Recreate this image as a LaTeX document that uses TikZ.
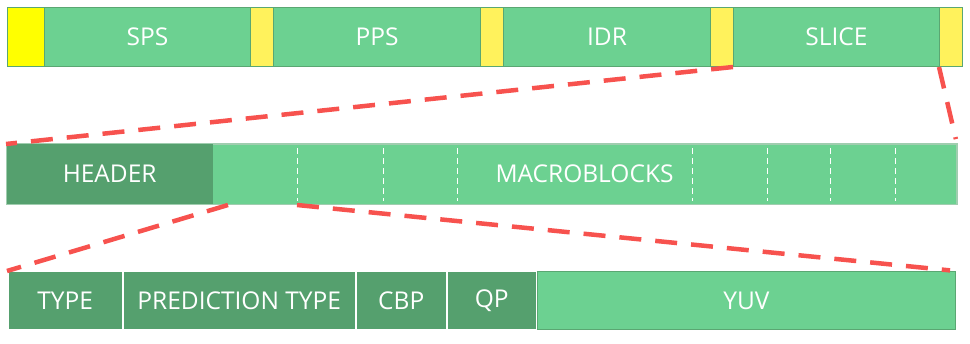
\documentclass[tikz,border=0pt]{standalone}
\usepackage{fontspec}
\setmainfont{Open Sans}
\definecolor{greenL}{RGB}{108,209,145}
\definecolor{greenD}{RGB}{85,160,110}
\definecolor{borderG}{RGB}{90,167,114}
\definecolor{borderM}{RGB}{160,205,175}
\definecolor{yelA}{RGB}{255,255,0}
\definecolor{yelB}{RGB}{255,242,92}
\definecolor{redZ}{RGB}{247,82,78}
\begin{document}
\begin{tikzpicture}[x=1pt,y=-1pt,
  lbl/.style={text=white,font=\fontsize{24.5}{28}\selectfont},
  seg/.style={draw=borderG,line width=1pt,fill=greenL,lbl,inner sep=0pt,anchor=north west,minimum height=59pt},
  sep/.style={seg,fill=yelB,minimum width=23pt},
  hdr/.style={fill=greenD,lbl,inner sep=0pt,anchor=north west,minimum height=60pt},
  low/.style={draw=white,line width=1.5pt,fill=greenD,lbl,inner sep=0pt,anchor=north west,minimum height=58pt},
  divider/.style={draw=white,line width=0.9pt,dash pattern=on 6pt off 4pt},
  zoomline/.style={draw=redZ,line width=4.5pt,dash pattern=on 22pt off 14pt}]
\useasboundingbox (0,0) rectangle (970,344);
% top row
\node[seg,fill=yelA,minimum width=37pt] (y1) at (7,7) {};
\node[seg,minimum width=206pt] (sps) at (44,7) {SPS};
\node[sep] (y2) at (250,7) {};
\node[seg,minimum width=207pt] (pps) at (273,7) {PPS};
\node[sep] (y3) at (480,7) {};
\node[seg,minimum width=207pt] (idr) at (503,7) {IDR};
\node[sep] (y4) at (710,7) {};
\node[seg,minimum width=206pt] (slice) at (733,7) {SLICE};
\node[sep] (y5) at (939,7) {};
% middle row
\node[draw=borderM,line width=1pt,fill=greenL,inner sep=0pt,anchor=north west,minimum width=950pt,minimum height=60pt] (mid) at (6,144) {};
\node[hdr,minimum width=207pt] (header) at (6,144) {HEADER};
\node[lbl] (mb) at (584.5,174) {MACROBLOCKS};
\draw[draw=borderM,line width=1pt] (mid.north west) rectangle (mid.south east);
\foreach \x in {297,383,457,692,767,830,895}
  \draw[divider] (\x,148) -- (\x,201);
\coordinate (hcut) at (228,205);
\coordinate (mcut) at (297,205);
% bottom row
\node[low,minimum width=115pt] (type) at (7,271) {TYPE};
\node[low,minimum width=233pt] (pred) at (122,271) {PREDICTION TYPE};
\node[low,minimum width=91pt] (cbp) at (355,271) {CBP};
\node[low,minimum width=90pt] (qp) at (446,271) {QP};
\node[seg,minimum width=418pt,minimum height=58pt] (yuv) at (537,271) {YUV};
% zoom lines
\draw[zoomline] (slice.south west) -- (mid.north west);
\draw[zoomline,shorten >=5pt] (y5.south west) -- (mid.north east);
\draw[zoomline] (hcut) -- (type.north west);
\draw[zoomline,shorten >=6pt] (mcut) -- (yuv.north east);
\end{tikzpicture}
\end{document}
